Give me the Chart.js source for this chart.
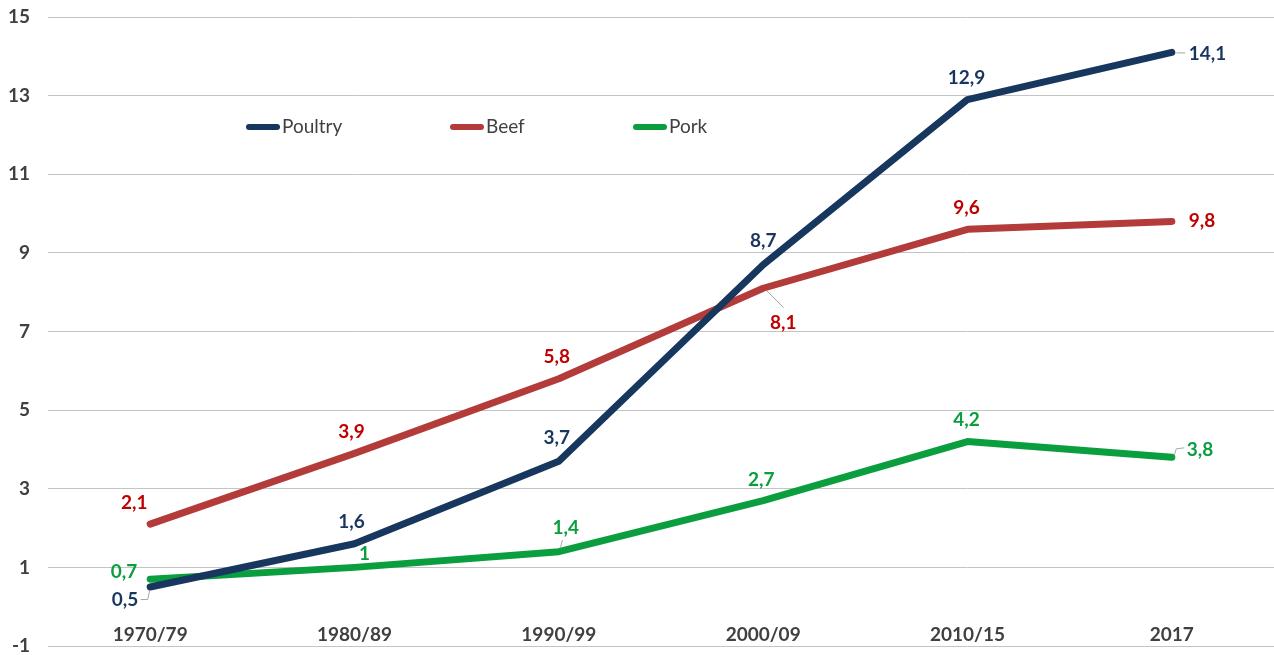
<!DOCTYPE html>
<html>
<head>
<meta charset="utf-8">
<title>Meat production growth</title>
<script src="https://cdn.jsdelivr.net/npm/chart.js@4"></script>
<style>
  html, body { margin: 0; padding: 0; background: #ffffff; }
  #wrap { width: 1274px; height: 655px; }
</style>
</head>
<body>
<div id="wrap"><canvas id="c" width="1274" height="655"></canvas></div>
<script>
// Categories and series values
const categories = ['1970/79', '1980/89', '1990/99', '2000/09', '2010/15', '2017'];
const poultry = [0.5, 1.6, 3.7, 8.7, 12.9, 14.1];
const beef = [2.1, 3.9, 5.8, 8.1, 9.6, 9.8];
const pork = [0.7, 1, 1.4, 2.7, 4.2, 3.8];
const yTicks = [-1, 1, 3, 5, 7, 9, 11, 13, 15];
const seriesNames = ['Poultry', 'Beef', 'Pork'];

// Styling
const lineColors = ['#17375e', '#b33b3a', '#0a9e3f'];
const labelColors = ['#1a355e', '#c00000', '#0a9e3f'];
const FONT = 'Lato, "Open Sans", sans-serif';
const TEXT = '#404040';

// Data label placement per point: offset from point, alignment, optional leader
const labelPlacement = [
  [
    { dx: -12, dy: 13, align: 'right', leader: [[-10, 12], [-3, 12], [-1, 3]] },
    { dx: -3, dy: -22 }, { dx: -2, dy: -23 }, { dx: 0, dy: -24 }, { dx: -1, dy: -22 },
    { dx: 17, dy: 1, align: 'left', leader: [[4, 0], [13, 0]] }
  ],
  [
    { dx: -16, dy: -21 }, { dx: -3, dy: -21 }, { dx: -2, dy: -22 },
    { dx: 20, dy: 35, leader: [[3, 2], [20, 19]] },
    { dx: -1, dy: -21 },
    { dx: 17, dy: -1, align: 'left' }
  ],
  [
    { dx: -13, dy: -7, align: 'right' },
    { dx: 10, dy: -14 },
    { dx: 7, dy: -24, leader: [[1, -4], [3, -12]] },
    { dx: -2, dy: -21 }, { dx: -1, dy: -22 },
    { dx: 15, dy: -7, align: 'left', leader: [[2, -3], [4, -9], [12, -10]] }
  ]
];

// Legend inside the plot: line start x relative to chart area left
const legendX = [198, 402, 585];
const legendY = 127;

const fmt = v => String(v).replace('.', ',');

const dataLabels = {
  id: 'dataLabels',
  afterDatasetsDraw(chart) {
    const ctx = chart.ctx;
    ctx.save();
    ctx.font = 'bold 19px ' + FONT;
    ctx.textBaseline = 'middle';
    chart.data.datasets.forEach((ds, i) => {
      const meta = chart.getDatasetMeta(i);
      meta.data.forEach((pt, j) => {
        const p = labelPlacement[i][j];
        if (p.leader) {
          ctx.strokeStyle = '#a6a6a6';
          ctx.lineWidth = 1;
          ctx.beginPath();
          p.leader.forEach((q, k) => {
            const x = pt.x + q[0] + 0.5, y = pt.y + q[1] + 0.5;
            if (k === 0) ctx.moveTo(x, y); else ctx.lineTo(x, y);
          });
          ctx.stroke();
        }
        ctx.fillStyle = labelColors[i];
        ctx.textAlign = p.align || 'center';
        ctx.fillText(fmt(ds.data[j]), pt.x + p.dx, pt.y + p.dy);
      });
    });
    ctx.restore();
  }
};

const categoryLabels = {
  id: 'categoryLabels',
  afterDraw(chart) {
    const ctx = chart.ctx;
    const xs = chart.scales.x, ys = chart.scales.y;
    ctx.save();
    ctx.font = 'bold 19px ' + FONT;
    ctx.fillStyle = TEXT;
    ctx.textAlign = 'center';
    ctx.textBaseline = 'middle';
    const y = ys.getPixelForValue(-1) - 11;
    categories.forEach((c, i) => ctx.fillText(c, xs.getPixelForValue(i), y));
    ctx.restore();
  }
};

const innerLegend = {
  id: 'innerLegend',
  afterDraw(chart) {
    const ctx = chart.ctx;
    const left = chart.chartArea.left;
    ctx.save();
    ctx.font = '19px ' + FONT;
    ctx.textBaseline = 'middle';
    ctx.textAlign = 'left';
    chart.data.datasets.forEach((ds, i) => {
      const x = left + legendX[i];
      ctx.strokeStyle = ds.borderColor;
      ctx.lineWidth = 6;
      ctx.lineCap = 'round';
      ctx.beginPath();
      ctx.moveTo(x + 3, legendY);
      ctx.lineTo(x + 31, legendY);
      ctx.stroke();
      ctx.fillStyle = TEXT;
      ctx.fillText(ds.label, x + 36, legendY);
    });
    ctx.restore();
  }
};

const seriesValues = [poultry, beef, pork];

new Chart(document.getElementById('c'), {
  type: 'line',
  data: {
    labels: categories,
    datasets: seriesValues.map((vals, i) => ({
      label: seriesNames[i],
      data: vals,
      borderColor: lineColors[i],
      backgroundColor: lineColors[i],
      borderWidth: 7,
      borderCapStyle: 'round',
      borderJoinStyle: 'round',
      pointRadius: 0,
      tension: 0,
      fill: false
    }))
  },
  options: {
    responsive: false,
    devicePixelRatio: 1,
    animation: false,
    layout: { padding: { top: 17, bottom: 9, left: 0, right: 0 } },
    plugins: { legend: { display: false }, tooltip: { enabled: false } },
    scales: {
      x: {
        display: false,
        offset: true
      },
      y: {
        min: -1,
        max: 15,
        afterBuildTicks(scale) { scale.ticks = yTicks.map(v => ({ value: v })); },
        afterFit(scale) {
          scale.width = 48;
          scale.paddingTop = 0;
          scale.paddingBottom = 0;
        },
        border: { display: false },
        grid: { color: '#c4c4c4', lineWidth: 1, drawTicks: false },
        ticks: {
          padding: 18,
          color: TEXT,
          font: { family: FONT, size: 19, weight: 'bold' },
          callback: v => String(v)
        }
      }
    }
  },
  plugins: [dataLabels, categoryLabels, innerLegend]
});
</script>
</body>
</html>
